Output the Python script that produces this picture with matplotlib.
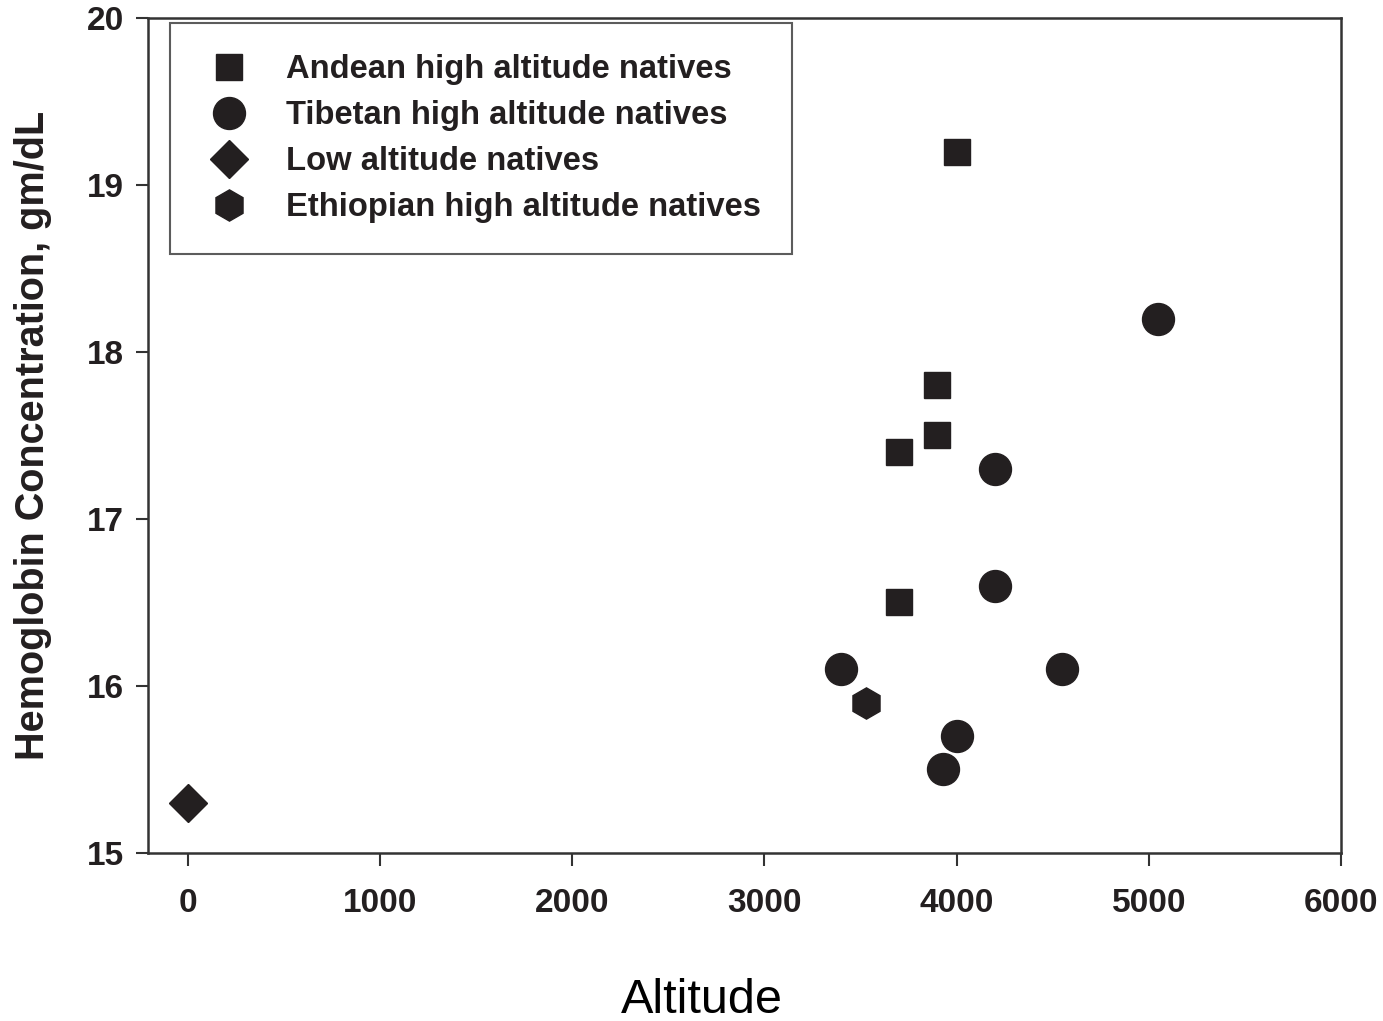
import matplotlib
matplotlib.use("Agg")
import matplotlib.pyplot as plt

plt.rcParams['font.family'] = ['Liberation Sans', 'DejaVu Sans']

andean_alt = [4000, 3900, 3900, 3700, 3700]
andean_hb = [19.2, 17.8, 17.5, 17.4, 16.5]
tibetan_alt = [5050, 4200, 4200, 3400, 4550, 4000, 3930]
tibetan_hb = [18.2, 17.3, 16.6, 16.1, 16.1, 15.7, 15.5]
low_alt = [0]
low_hb = [15.3]
ethiopian_alt = [3530]
ethiopian_hb = [15.9]

labels = ["Andean high altitude natives", "Tibetan high altitude natives",
          "Low altitude natives", "Ethiopian high altitude natives"]
xticks = [0, 1000, 2000, 3000, 4000, 5000, 6000]
yticks = [15, 16, 17, 18, 19, 20]

col = '#231f20'
fig = plt.figure(figsize=(13.83, 10.21), dpi=100)
ax = fig.add_axes([0.107, 0.1646, 0.8626, 0.8178])

ax.plot(andean_alt, andean_hb, 's', color=col, ms=18.5, ls='none', label=labels[0])
ax.plot(tibetan_alt, tibetan_hb, 'o', color=col, ms=23, ls='none', label=labels[1])
ax.plot(low_alt, low_hb, 'D', color=col, ms=19, ls='none', label=labels[2])
ax.plot(ethiopian_alt, ethiopian_hb, 'h', color=col, ms=22.5, ls='none', label=labels[3])

ax.set_xlim(-208, 6000)
ax.set_ylim(15, 20)
ax.set_xticks(xticks)
ax.set_yticks(yticks)
ax.set_xticklabels([str(v) for v in xticks], fontsize=24, fontweight='bold', color=col)
ax.set_yticklabels([str(v) for v in yticks], fontsize=24, fontweight='bold', color=col)
ax.tick_params(direction='out', length=9, width=1.5, color='#333333')
ax.tick_params(axis='x', pad=16)
ax.tick_params(axis='y', pad=8)
for s in ax.spines.values():
    s.set_linewidth(1.8)
    s.set_color('#333333')

fig.text(702 / 1383, 1 - 1000 / 1021, "Altitude", fontsize=35, ha='center', va='center', color='black')
fig.text(33 / 1383, 1 - 435 / 1021, "Hemoglobin Concentration, gm/dL", fontsize=28.5,
         fontweight='bold', color=col, rotation=90, ha='center', va='center')

leg = ax.legend(loc='upper left', bbox_to_anchor=(0.0184, 0.994), borderaxespad=0,
                prop={'weight': 'bold', 'size': 23.6}, frameon=True, fancybox=False,
                edgecolor='#333333', labelspacing=0.46, handletextpad=0.9, borderpad=0.95,
                handlelength=1.7)
leg.get_frame().set_linewidth(1.5)
for t in leg.get_texts():
    t.set_color(col)

fig.savefig("out.png", dpi=100)
